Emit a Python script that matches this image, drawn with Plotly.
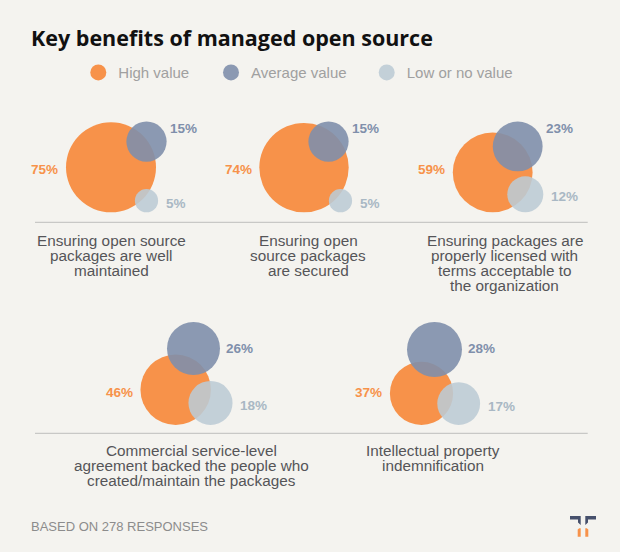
import numpy as np
import plotly.graph_objects as go

# ---------------- data ----------------
SERIES = ["High value", "Average value", "Low or no value"]
CATEGORIES = [
    "Ensuring open source<br>packages are well<br>maintained",
    "Ensuring open<br>source packages<br>are secured",
    "Ensuring packages are<br>properly licensed with<br>terms acceptable to<br>the organization",
    "Commercial service-level<br>agreement backed the people who<br>created/maintain the packages",
    "Intellectual property<br>indemnification",
]
HIGH = [75, 74, 59, 46, 37]
AVERAGE = [15, 15, 23, 26, 28]
LOW = [5, 5, 12, 18, 17]
TITLE = "Key benefits of managed open source"
FOOTNOTE = "BASED ON 278 RESPONSES"

# ---------------- layout / style ----------------
W, H = 620, 552
BG = "#F4F3EF"
COLORS = ["#F7924A", "#7F8FAB", "#BCCBD5"]
LABEL_COLORS = ["#F7924A", "#7F8FAB", "#A9B8C4"]
OPAC = [1.0, 0.9, 0.88]
K = 10.39                      # diameter (px) per sqrt(percent)
ROW = [0, 0, 0, 1, 1]
ROW_BASE = [212.3, 425.0]      # bottom of high / low circles
ROW_TOP = [121.5, 322.0]       # top of average circle
ROW_RULE = [222.3, 433.3]
ROW_TEXT = [240.0, 450.7]
LINE_STEP = 15.0
HIGH_LABEL_Y = [169.0, 392.5]
AVG_LABEL_Y = [128.0, 348.0]
PANEL_CX = [111.3, 308.0, 504.7, 191.0, 433.3]
HIGH_CX = [111.0, 304.0, 492.7, 175.7, 421.5]
AVG_DX = [35.5, 24.5, 25.0, 17.8, 13.0]
LOW_DX = [35.5, 36.5, 32.6, 34.8, 37.2]
LEGEND_X = [78.3, 211.0, 366.7]
LEGEND_Y = 72.7

def diam(v):
    return K * np.sqrt(np.asarray(v, dtype=float))

dH, dA, dL = diam(HIGH), diam(AVERAGE), diam(LOW)
base = np.array([ROW_BASE[r] for r in ROW])
top = np.array([ROW_TOP[r] for r in ROW])
hx = np.array(HIGH_CX)
hy = base - dH / 2
ax_ = hx + np.array(AVG_DX)
ay = top + dA / 2
lx = hx + np.array(LOW_DX)
ly = base - dL / 2

legend_names = ["legend", "legend2", "legend3"]
fig = go.Figure()
for k, (name, xs, ys, ds, col, op) in enumerate([
    (SERIES[0], hx, hy, dH, COLORS[0], OPAC[0]),
    (SERIES[1], ax_, ay, dA, COLORS[1], OPAC[1]),
    (SERIES[2], lx, ly, dL, COLORS[2], OPAC[2]),
]):
    fig.add_trace(go.Scatter(
        x=xs, y=ys, mode="markers", name=name, legend=legend_names[k],
        marker=dict(size=ds, sizemode="diameter", sizeref=1, color=col,
                    opacity=op, line=dict(width=0)),
        hoverinfo="skip",
    ))

ann = []
pct_font = dict(family="Liberation Sans, Arial, sans-serif", size=13.5)
for i in range(5):
    r = ROW[i]
    ann.append(dict(x=hx[i] - dH[i] / 2 - 6.8, y=HIGH_LABEL_Y[r], text=f"<b>{HIGH[i]}%</b>",
                    xanchor="right", yanchor="middle", font=dict(color=LABEL_COLORS[0], **pct_font)))
    ann.append(dict(x=ax_[i] + dA[i] / 2 + [2.5, 5.5][r], y=AVG_LABEL_Y[r], text=f"<b>{AVERAGE[i]}%</b>",
                    xanchor="left", yanchor="middle", font=dict(color=LABEL_COLORS[1], **pct_font)))
    ann.append(dict(x=lx[i] + dL[i] / 2 + 6.5, y=ly[i] + 2.5, text=f"<b>{LOW[i]}%</b>",
                    xanchor="left", yanchor="middle", font=dict(color=LABEL_COLORS[2], **pct_font)))
    for j, line in enumerate(CATEGORIES[i].split("<br>")):
        ann.append(dict(x=PANEL_CX[i], y=ROW_TEXT[r] + j * LINE_STEP, text=line,
                        xanchor="center", yanchor="middle",
                        font=dict(family="Liberation Sans, Arial, sans-serif", size=15.3, color="#555558")))
for a in ann:
    a.update(xref="x", yref="y", showarrow=False, borderpad=0)

ann.append(dict(x=30, y=37, xref="x", yref="y", text=f"<b>{TITLE}</b>", showarrow=False,
                xanchor="left", yanchor="middle", borderpad=0,
                font=dict(family="Open Sans, sans-serif", size=21.5, color="#111111")))
ann.append(dict(x=30, y=526.7, xref="x", yref="y", text=FOOTNOTE, showarrow=False,
                xanchor="left", yanchor="middle", borderpad=0,
                font=dict(family="Liberation Sans, Arial, sans-serif", size=13, color="#8C8C8C")))

shapes = []
for yv in ROW_RULE:
    shapes.append(dict(type="line", xref="x", yref="y", x0=35, x1=587.7, y0=yv, y1=yv,
                       line=dict(color="#C8C8C6", width=1.3)))
# logo
navy = "#46506C"
orange = "#F7924A"
shapes.append(dict(type="path", xref="x", yref="y", fillcolor=navy, line=dict(width=0),
                   path="M570,516 L580.7,516 L580.7,525 L578,522.5 L578,519.5 L570,519.5 Z"))
shapes.append(dict(type="path", xref="x", yref="y", fillcolor=navy, line=dict(width=0),
                   path="M596,516 L585.3,516 L585.3,525 L588,522.5 L588,519.5 L596,519.5 Z"))
shapes.append(dict(type="path", xref="x", yref="y", fillcolor=orange, line=dict(width=0),
                   path="M577.7,529.5 L579.2,528.3 L580.7,528.3 L580.7,536.7 L577.7,536.7 Z"))
shapes.append(dict(type="path", xref="x", yref="y", fillcolor=orange, line=dict(width=0),
                   path="M588.3,529.5 L586.8,528.3 L585.3,528.3 L585.3,536.7 L588.3,536.7 Z"))

legend_style = dict(orientation="h", xanchor="left", yanchor="middle", y=1 - LEGEND_Y / H,
                    bgcolor="rgba(0,0,0,0)", itemsizing="trace", borderwidth=0,
                    font=dict(family="Liberation Sans, Arial, sans-serif", size=15, color="#A0A0A0"))
fig.update_layout(
    width=W, height=H, autosize=False,
    margin=dict(l=0, r=0, t=0, b=0),
    paper_bgcolor=BG, plot_bgcolor=BG,
    xaxis=dict(range=[0, W], visible=False, fixedrange=True),
    yaxis=dict(range=[H, 0], visible=False, fixedrange=True),
    annotations=ann, shapes=shapes,
    showlegend=True,
    legend=dict(x=LEGEND_X[0] / W, **legend_style),
    legend2=dict(x=LEGEND_X[1] / W, **legend_style),
    legend3=dict(x=LEGEND_X[2] / W, **legend_style),
)
fig.write_html(
    "out.html",
    config={"displayModeBar": False},
    post_script=f"document.body.style.margin='0';document.body.style.background='{BG}';",
)
